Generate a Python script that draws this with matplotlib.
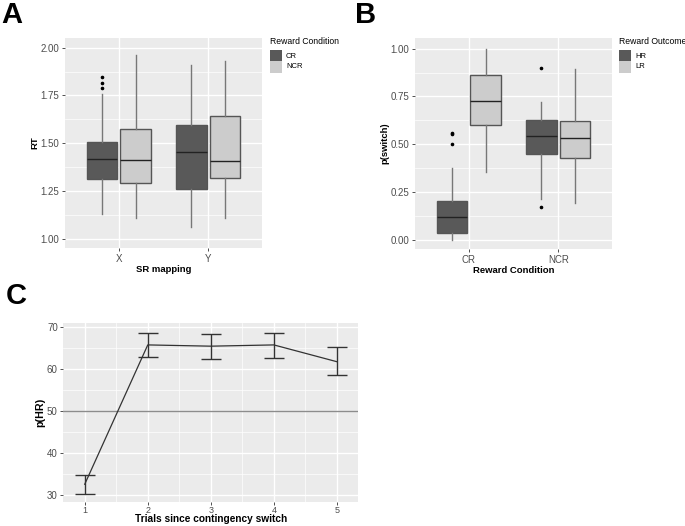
import matplotlib
matplotlib.use("Agg")
from matplotlib import pyplot as plt
from matplotlib.patches import Rectangle

plt.rcParams['font.family'] = ['Liberation Sans', 'DejaVu Sans']

# Panel A: RT by SR mapping and reward condition (box stats)
a_mapping = ['X', 'Y']
a_conditions = ['CR', 'NCR']
# order: X-CR, X-NCR, Y-CR, Y-NCR
a_whislo = [1.13, 1.11, 1.06, 1.11]
a_q1 = [1.315, 1.29, 1.26, 1.32]
a_med = [1.42, 1.415, 1.455, 1.405]
a_q3 = [1.505, 1.575, 1.595, 1.645]
a_whishi = [1.76, 1.96, 1.91, 1.93]
a_fliers = [[1.79, 1.815, 1.845], [], [], []]
a_yticks = [1.00, 1.25, 1.50, 1.75, 2.00]

# Panel B: p(switch) by reward condition and reward outcome
b_conditions = ['CR', 'NCR']
b_outcomes = ['HR', 'LR']
# order: CR-HR, CR-LR, NCR-HR, NCR-LR
b_whislo = [0.0, 0.355, 0.215, 0.19]
b_q1 = [0.035, 0.60, 0.45, 0.43]
b_med = [0.12, 0.725, 0.545, 0.535]
b_q3 = [0.20, 0.86, 0.625, 0.62]
b_whishi = [0.375, 1.00, 0.72, 0.895]
b_fliers = [[0.50, 0.555, 0.56], [], [0.90, 0.17], []]
b_yticks = [0.00, 0.25, 0.50, 0.75, 1.00]

# Panel C: p(HR) over trials since the switch
c_trials = [1, 2, 3, 4, 5]
c_mean = [32.6, 65.8, 65.5, 65.8, 61.8]
c_lo = [30.2, 62.9, 62.5, 62.8, 58.6]
c_hi = [34.9, 68.7, 68.4, 68.7, 65.2]
c_chance = 50
c_yticks = [30, 40, 50, 60, 70]

DARK = '#595959'
LIGHT = '#CCCCCC'
PANEL = '#EBEBEB'
W, H = 685, 526


def px_axes(fig, x0, y0, x1, y1):
    return fig.add_axes([x0 / W, 1 - y1 / H, (x1 - x0) / W, (y1 - y0) / H])


def style(ax):
    ax.set_facecolor(PANEL)
    for s in ax.spines.values():
        s.set_visible(False)
    ax.tick_params(length=2.5, width=0.6, color='#333333', labelcolor='#4D4D4D',
                   labelsize=7, pad=1.5)
    ax.set_axisbelow(True)


def boxes(ax, whislo, q1, med, q3, whishi, fliers, positions):
    stats = []
    for i in range(len(med)):
        stats.append(dict(whislo=whislo[i], q1=q1[i], med=med[i], q3=q3[i],
                          whishi=whishi[i], fliers=fliers[i]))
    bp = ax.bxp(stats, positions=positions, widths=0.34, patch_artist=True,
                showcaps=False, manage_ticks=False,
                boxprops=dict(edgecolor='#555555', linewidth=1.0),
                medianprops=dict(color='#222222', linewidth=1.0),
                whiskerprops=dict(color='#777777', linewidth=1.0),
                flierprops=dict(marker='o', markersize=1.6, markerfacecolor='black',
                                markeredgecolor='black'))
    for i, patch in enumerate(bp['boxes']):
        patch.set_facecolor(DARK if i % 2 == 0 else LIGHT)


def legend(fig, x, title, labels):
    fig.text(x / W, 1 - 42 / H, title, fontsize=6.2, color='black', va='center')
    for i, lab in enumerate(labels):
        y0 = 50.5 + i * 11
        fig.patches.append(Rectangle((x / W, 1 - (y0 + 11) / H), 12 / W, 11 / H,
                                     transform=fig.transFigure,
                                     facecolor=DARK if i == 0 else LIGHT,
                                     edgecolor='none'))
        fig.text((x + 16) / W, 1 - (y0 + 5.5) / H, lab, fontsize=5.5,
                 color='black', va='center')


fig = plt.figure(figsize=(6.85, 5.26), dpi=100)

# ---- A ----
axA = px_axes(fig, 65, 37.7, 262, 248.3)
style(axA)
posA = []
for g in range(len(a_mapping)):
    posA += [g + 1 - 0.1875, g + 1 + 0.1875]
for y in [1.125, 1.375, 1.625, 1.875]:
    axA.axhline(y, color='white', lw=0.5, zorder=0)
for y in a_yticks:
    axA.axhline(y, color='white', lw=1.0, zorder=0)
for x in range(len(a_mapping)):
    axA.axvline(x + 1, color='white', lw=1.0, zorder=0)
boxes(axA, a_whislo, a_q1, a_med, a_q3, a_whishi, a_fliers, posA)
axA.set_xlim(0.4, 2.6)
axA.set_ylim(0.951, 2.052)
axA.set_xticks([1, 2])
axA.set_xticklabels(a_mapping)
axA.set_yticks(a_yticks)
axA.set_yticklabels(['%.2f' % v for v in a_yticks])
axA.set_xlabel('SR mapping', fontsize=6.8, fontweight='bold', labelpad=1)
axA.set_ylabel('RT', fontsize=6.8, fontweight='bold', labelpad=1)
legend(fig, 270, 'Reward Condition', a_conditions)

# ---- B ----
axB = px_axes(fig, 415, 37.7, 612, 249)
style(axB)
for y in [0.125, 0.375, 0.625, 0.875]:
    axB.axhline(y, color='white', lw=0.5, zorder=0)
for y in b_yticks:
    axB.axhline(y, color='white', lw=1.0, zorder=0)
for x in range(len(b_conditions)):
    axB.axvline(x + 1, color='white', lw=1.0, zorder=0)
boxes(axB, b_whislo, b_q1, b_med, b_q3, b_whishi, b_fliers, posA)
axB.set_xlim(0.4, 2.6)
axB.set_ylim(-0.049, 1.058)
axB.set_xticks([1, 2])
axB.set_xticklabels(b_conditions)
axB.set_yticks(b_yticks)
axB.set_yticklabels(['%.2f' % v for v in b_yticks])
axB.set_xlabel('Reward Condition', fontsize=6.8, fontweight='bold', labelpad=1)
axB.set_ylabel('p(switch)', fontsize=6.8, fontweight='bold', labelpad=1)
legend(fig, 619, 'Reward Outcome', b_outcomes)

# ---- C ----
axC = px_axes(fig, 63.3, 323.3, 358.3, 502.3)
style(axC)
for y in [35, 45, 55, 65]:
    axC.axhline(y, color='white', lw=0.5, zorder=0)
for y in c_yticks:
    axC.axhline(y, color='white', lw=1.0, zorder=0)
for x in [1.5, 2.5, 3.5, 4.5]:
    axC.axvline(x, color='white', lw=0.5, zorder=0)
for x in c_trials:
    axC.axvline(x, color='white', lw=1.0, zorder=0)
axC.axhline(c_chance, color='#8C8C8C', lw=1.0, zorder=1)
axC.plot(c_trials, c_mean, color='#333333', lw=0.9, zorder=2)
yerr = [[m - l for m, l in zip(c_mean, c_lo)], [h - m for m, h in zip(c_mean, c_hi)]]
axC.errorbar(c_trials, c_mean, yerr=yerr, fmt='none', ecolor='#333333',
             elinewidth=1.0, capsize=7.5, capthick=1.0, zorder=3)
axC.set_xlim(0.66, 5.34)
axC.set_ylim(28.3, 70.95)
axC.set_xticks(c_trials)
axC.set_yticks(c_yticks)
axC.tick_params(axis='x', length=2, pad=0.5, labelsize=6.5)
axC.set_xlabel('Trials since contingency switch', fontsize=7.3, fontweight='bold')
axC.xaxis.set_label_coords(0.5, -(514 - 502.3) / 179.0)
axC.set_ylabel('p(HR)', fontsize=7.7, fontweight='bold', labelpad=1)

# panel letters
fig.text(1 / W, 1 - 1 / H, 'A', fontsize=21, fontweight='bold', va='top')
fig.text(355 / W, 1 - 1 / H, 'B', fontsize=21, fontweight='bold', va='top')
fig.text(6 / W, 1 - 282 / H, 'C', fontsize=21, fontweight='bold', va='top')

fig.savefig('out.png', dpi=100)
